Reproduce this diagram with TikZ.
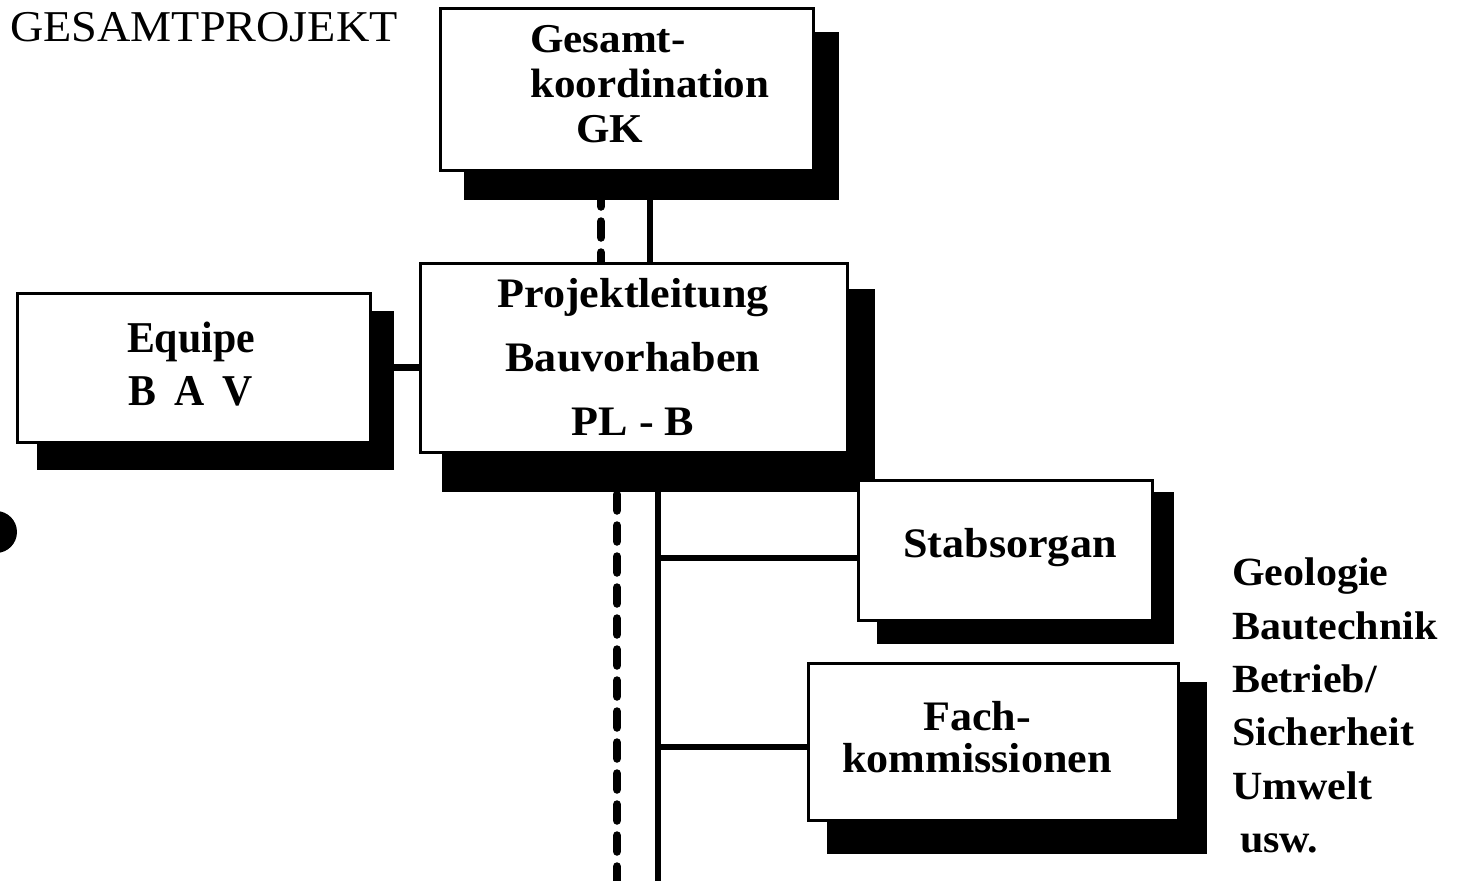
\documentclass[tikz,border=0pt]{standalone}
\usepackage{fontspec}
\setmainfont{Liberation Serif}
\newfontfamily\boxfont[FakeStretch=1.05]{Liberation Serif}
\newfontfamily\eqfont[FakeStretch=0.95]{Liberation Serif}
\usetikzlibrary{calc}
\pgfdeclarelayer{bg}
\pgfsetlayers{bg,main}
\tikzset{
  box/.style={draw=black, line width=3pt, fill=white, inner sep=0pt},
  shade/.style={fill=black},
  conn/.style={line width=6.5pt},
  dconn/.style={line width=8.5pt, line cap=round, dash pattern=on 16pt off 15pt},
  lbl/.style={inner sep=0pt, font=\fontsize{42}{46}\selectfont\boxfont\bfseries},
}
\begin{document}
\begin{tikzpicture}[x=1pt,y=-1pt]
\useasboundingbox (0,0) rectangle (1481,881);

% title
\node[inner sep=0pt, anchor=base west, font=\fontsize{44}{46}\selectfont\boxfont] (title) at (10,41) {GESAMTPROJEKT};

% boxes
\node[box, minimum width=373pt, minimum height=162pt] (gk) at (626.5,89) {};
\node[box, minimum width=427pt, minimum height=189pt] (pl) at (633.5,357.5) {};
\node[box, minimum width=353pt, minimum height=149pt] (eq) at (193.5,367.5) {};
\node[box, minimum width=294pt, minimum height=140pt] (so) at (1005,550) {};
\node[box, minimum width=370pt, minimum height=157pt] (fk) at (993,741.5) {};

% box texts
\node[lbl, align=left, anchor=west, font=\fontsize{41}{45}\selectfont\boxfont\bfseries] (gkt) at (530,84) {Gesamt-\\koordination\\\hspace*{46pt}GK};
\node[lbl, align=center, font=\fontsize{42}{64}\selectfont\boxfont\bfseries] (plt) at (633,357) {Projektleitung\\Bauvorhaben\\PL - B};
\node[inner sep=0pt, align=center, font=\fontsize{44}{53}\selectfont\eqfont\bfseries] (eqt) at (191,364) {Equipe\\B\hspace{18pt}A\hspace{18pt}V};
\node[lbl, anchor=base] (sot) at (1010,557) {Stabsorgan};
\node[lbl, align=center, font=\fontsize{42}{42}\selectfont\boxfont\bfseries] (fkt) at (977,737) {Fach-\\kommissionen};

% list
\node[inner sep=0pt, align=left, anchor=north west, font=\fontsize{40}{53.3}\selectfont\boxfont\bfseries] (lst) at (1232,558) {Geologie\\Bautechnik\\Betrieb/\\Sicherheit\\Umwelt\\\hspace*{8pt}usw.};

% dot
\node[circle, fill=black, inner sep=0pt, minimum size=42pt] (dot) at (-4,532) {};

% helper coordinates
\coordinate (u0) at (601,0);
\coordinate (u1) at (650,0);
\coordinate (t0) at (617,890);
\coordinate (t1) at (658,890);
\coordinate (sj) at (658,558);
\coordinate (fj) at (658,747);

\begin{pgfonlayer}{bg}
  \fill[white] (0,0) rectangle (1481,881);
  \fill[shade] ($(gk.north west)+(25,25)$) rectangle ($(gk.south east)+(24,28)$);
  \fill[shade] ($(pl.north west)+(23,27)$) rectangle ($(pl.south east)+(26,38)$);
  \fill[shade] ($(eq.north west)+(21,19)$) rectangle ($(eq.south east)+(22,26)$);
  \fill[shade] ($(so.north west)+(20,13)$) rectangle ($(so.south east)+(20,22)$);
  \fill[shade] ($(fk.north west)+(20,20)$) rectangle ($(fk.south east)+(27,32)$);
  % connectors
  \draw[conn] (gk.south -| u1) -- (pl.north -| u1);
  \draw[dconn, dash phase=12pt] (gk.south -| u0) -- (pl.north -| u0);
  \draw[conn] (eq.east) -- (eq.east -| pl.west);
  \draw[conn] (pl.south -| t1) -- (t1);
  \draw[dconn, dash phase=21pt] (pl.south -| t0) -- (t0);
  \draw[conn] (sj) -- (sj -| so.west);
  \draw[conn] (fj) -- (fj -| fk.west);
\end{pgfonlayer}
\end{tikzpicture}
\end{document}
